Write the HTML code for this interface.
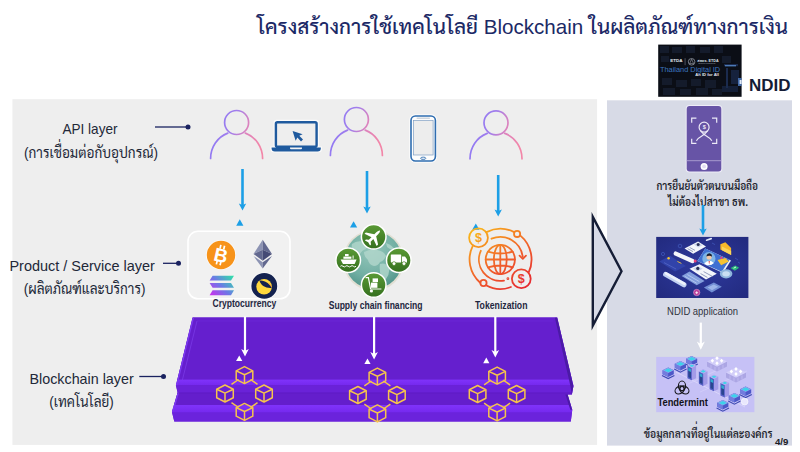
<!DOCTYPE html>
<html lang="th">
<head>
<meta charset="utf-8">
<title>โครงสร้างการใช้เทคโนโลยี Blockchain ในผลิตภัณฑ์ทางการเงิน</title>
<style>
html,body{margin:0;padding:0;background:#fff}
body{width:800px;height:452px;overflow:hidden;position:relative}
svg{position:absolute;left:0;top:0;display:block}
text{font-family:"Liberation Sans","Sarabun","Noto Sans Thai","Loma",sans-serif}
.lbl{font-size:14.5px;fill:#222838}
.cap{font-size:10.5px;font-weight:bold;fill:#1f2740}
</style>
</head>
<body>
<svg width="800" height="452" viewBox="0 0 800 452">
<defs>
  <linearGradient id="gPerson" gradientUnits="userSpaceOnUse" x1="-24" y1="-30" x2="24" y2="-14">
    <stop offset="0" stop-color="#8c78f6"/><stop offset="0.38" stop-color="#a47eea"/><stop offset="0.66" stop-color="#de83bc"/><stop offset="1" stop-color="#f286a8"/>
  </linearGradient>
  <g id="person" fill="none" stroke="url(#gPerson)" stroke-width="1.7" stroke-linecap="round">
    <circle cx="0" cy="-36" r="12"/>
    <path d="M-26 0 A26 27 0 0 1 -8.8 -25.4"/>
    <path d="M8.8 -25.4 A26 27 0 0 1 26 0"/>
  </g>
  <g id="cube" fill="none" stroke="#f6c44c" stroke-width="1.5" stroke-linejoin="round">
    <path d="M0 -8.5 L8.3 -4.25 L8.3 4.25 L0 8.5 L-8.3 4.25 L-8.3 -4.25 Z"/>
    <path d="M-8.3 -4.25 L0 -0.4 L8.3 -4.25 M0 -0.4 L0 8.5"/>
  </g>
  <g id="chain">
    <path d="M-13 -9.2 L-6 -14 M13 -9.2 L6 -14 M-13 9.2 L-6 14 M13 9.2 L6 14" stroke="#f6c44c" stroke-width="1.5" fill="none"/>
    <use href="#cube" x="0" y="-18.4"/>
    <use href="#cube" x="-19.5" y="0"/>
    <use href="#cube" x="19.5" y="0"/>
    <use href="#cube" x="0" y="18.4"/>
  </g>
</defs>

<!-- panels -->
<rect x="12.4" y="99.2" width="584.7" height="345.7" fill="#eeeeee"/>
<rect x="607" y="100.3" width="185" height="345.3" fill="#d7dae6"/>

<!-- title -->
<text x="788" y="34.3" text-anchor="end" font-size="21" font-weight="500" fill="#1c2966" textLength="531" lengthAdjust="spacingAndGlyphs">โครงสร้างการใช้เทคโนโลยี Blockchain ในผลิตภัณฑ์ทางการเงิน</text>

<!-- left labels -->
<text class="lbl" x="90" y="133.8" text-anchor="middle" textLength="55" lengthAdjust="spacingAndGlyphs">API layer</text>
<text class="lbl" x="91" y="157.5" text-anchor="middle" textLength="134" lengthAdjust="spacingAndGlyphs">(การเชื่อมต่อกับอุปกรณ์)</text>
<text class="lbl" x="82.2" y="271.2" text-anchor="middle" textLength="145.5" lengthAdjust="spacingAndGlyphs">Product / Service layer</text>
<text class="lbl" x="84.6" y="293.8" text-anchor="middle" textLength="121.7" lengthAdjust="spacingAndGlyphs">(ผลิตภัณฑ์และบริการ)</text>
<text class="lbl" x="81.6" y="383.5" text-anchor="middle" textLength="104.2" lengthAdjust="spacingAndGlyphs">Blockchain layer</text>
<text class="lbl" x="81.5" y="407" text-anchor="middle" textLength="64.5" lengthAdjust="spacingAndGlyphs">(เทคโนโลยี)</text>
<g stroke="#1a2260" stroke-width="1.3" fill="#1a2260">
  <path d="M155 127 H187"/><circle cx="188" cy="127" r="2.5" stroke="none"/>
  <path d="M163 263.3 H178"/><circle cx="178.5" cy="263.3" r="2.5" stroke="none"/>
  <path d="M139.3 376.5 H163"/><circle cx="163.5" cy="376.5" r="2.5" stroke="none"/>
</g>

<!-- persons -->
<use href="#person" x="236.6" y="158.5"/>
<use href="#person" x="356.4" y="155.5"/>
<use href="#person" x="496" y="158.8"/>

<!-- blue arrows -->
<g stroke="#1c9fe6" stroke-width="2.6" fill="#1c9fe6">
  <path d="M242.5 169 V205.4"/><path d="M238.8 203.6 L242.5 205.0 L246.2 203.6 L242.5 210.4 Z" stroke="none"/>
  <path d="M367 171 V208.4"/><path d="M363.3 206.6 L367 208.0 L370.7 206.6 L367 213.4 Z" stroke="none"/>
  <path d="M498.2 175 V211.4"/><path d="M494.5 209.6 L498.2 211.0 L501.9 209.6 L498.2 216.4 Z" stroke="none"/>
  <path d="M239.8 219.3 L243.4 225.7 H236.2 Z" stroke="none"/>
  <path d="M353.6 221.2 L357.2 227.6 H350.0 Z" stroke="none"/>
  <path d="M475.8 223.4 L479.4 229.8 H472.2 Z" stroke="none"/>
</g>

<!-- crypto box -->
<rect x="188" y="231.3" width="102" height="67.5" rx="10" fill="#f1f1f1" stroke="#fff" stroke-width="1.6"/>
<!-- bitcoin -->
<circle cx="221" cy="255" r="15" fill="#fff" opacity=".7"/>
<circle cx="221" cy="255" r="14.2" fill="#f7931a"/>
<g transform="rotate(13 221 255)">
  <text x="221" y="262" text-anchor="middle" font-size="19" font-weight="bold" fill="#fff">B</text>
  <path d="M218.6 245.2 V249 M222.4 245.2 V249 M218.6 261.5 V265.2 M222.4 261.5 V265.2" stroke="#fff" stroke-width="1.7"/>
</g>
<!-- ethereum -->
<g>
  <path d="M262.7 239.7 L253.5 253.9 L262.7 249.8 Z" fill="#8c93b3"/>
  <path d="M262.7 239.7 L272 253.9 L262.7 249.8 Z" fill="#62688f"/>
  <path d="M253.5 253.9 L262.7 249.8 L262.7 260.7 Z" fill="#62688f"/>
  <path d="M272 253.9 L262.7 249.8 L262.7 260.7 Z" fill="#454a75"/>
  <path d="M253.5 256 L262.7 262.3 L262.7 268.4 Z" fill="#8c93b3"/>
  <path d="M272 256 L262.7 262.3 L262.7 268.4 Z" fill="#62688f"/>
</g>
<!-- solana -->
<linearGradient id="gSol" gradientUnits="userSpaceOnUse" x1="232" y1="275" x2="210" y2="296">
  <stop offset="0" stop-color="#2fe0a8"/><stop offset=".5" stop-color="#6b7ae6"/><stop offset="1" stop-color="#d02bee"/>
</linearGradient>
<g fill="url(#gSol)">
  <path d="M212.6 275.7 H234 L231 280.4 H209.6 Z"/>
  <path d="M209.6 282.9 H231 L234 287.8 H212.6 Z"/>
  <path d="M212.6 290.2 H234 L231 295.2 H209.6 Z"/>
</g>
<!-- terra -->
<circle cx="264.3" cy="285.9" r="13.7" fill="#fff" opacity=".7"/>
<circle cx="264.3" cy="285.9" r="12.9" fill="#14224f"/>
<circle cx="264.1" cy="286.7" r="7.8" fill="#ffd83d"/>
<path d="M259.5 280.6 C263 280.6 269 282.4 271.8 288 C266 288.6 260.6 285.6 259.5 280.6 Z" fill="#14224f"/>
<path d="M268 282.4 C270 283.4 271.4 285.4 271.9 288 C270.6 286 269.4 284.2 268 282.4 Z" fill="#f58a2a"/>
<text class="cap" x="244.4" y="307.4" text-anchor="middle" textLength="63.8" lengthAdjust="spacingAndGlyphs">Cryptocurrency</text>
<text class="cap" x="375.6" y="308.6" text-anchor="middle" textLength="93.8" lengthAdjust="spacingAndGlyphs">Supply chain financing</text>
<text class="cap" x="501.2" y="308.6" text-anchor="middle" textLength="52.5" lengthAdjust="spacingAndGlyphs">Tokenization</text>

<!-- platform -->
<clipPath id="cpPlat"><path d="M192.6 317.4 L557.2 317.4 L573.5 386 L571.9 394.6 L567.6 394.6 L572.3 409.8 L570.8 421.5 L174.3 421.5 L171.9 411.8 L177.6 392.6 L175.9 385.3 Z"/></clipPath>
<linearGradient id="gB1" x1="0" y1="0" x2="0" y2="1"><stop offset="0" stop-color="#8033fb"/><stop offset="1" stop-color="#7529ee"/></linearGradient>
<g clip-path="url(#cpPlat)">
  <rect x="170" y="317" width="406" height="105" fill="#6a22d8"/>
  <rect x="170" y="317" width="406" height="63" fill="#651fce"/>
  <rect x="170" y="379.6" width="406" height="5.6" fill="url(#gB1)"/>
  <rect x="170" y="385.2" width="406" height="7.6" fill="#6a22d8"/>
  <rect x="170" y="392.6" width="406" height="12.6" fill="#641ecc"/>
  <rect x="170" y="405" width="406" height="7.6" fill="url(#gB1)"/>
  <rect x="170" y="412.5" width="406" height="9.5" fill="#6b23dc"/>
  <path d="M192.6 317.4 L175.9 385.3 L177.4 385.3 L194.1 317.4 Z" fill="#7c3af0"/>
  <path d="M177.6 392.6 L171.9 411.8 L173.4 411.8 L179.1 392.6 Z" fill="#7c3af0"/>
  <path d="M197 321 L182.4 380" stroke="#7a3ae6" stroke-width="0.8" fill="none"/>
  <path d="M197 321 H553.4" stroke="#6d29d8" stroke-width="0.8" fill="none"/>
  <path d="M557.2 317.4 L573.5 386 L571.9 394.6 L570.4 386 L554.8 317.4 Z" fill="#4b1aa6"/>
  <path d="M567.6 394.6 L572.3 409.8 L570.3 409.8 L565.4 394.6 Z" fill="#4b1aa6"/>
  <path d="M176 393 H572" stroke="#5a1bbc" stroke-width="0.9" opacity=".55"/>
</g>

<!-- white arrows -->
<g stroke="#fff" stroke-width="2.2" fill="#fff">
  <path d="M245 316.5 V351"/><path d="M241.2 349 L245 351 L248.8 349 L245 356.5 Z" stroke="none"/>
  <path d="M374.1 316.5 V354"/><path d="M370.3 352 L374.1 354 L377.9 352 L374.1 359.5 Z" stroke="none"/>
  <path d="M495.3 316.5 V352"/><path d="M491.5 350 L495.3 352 L499.1 350 L495.3 357.5 Z" stroke="none"/>
  <path d="M239.2 355.4 L242.3 361 H236.1 Z" stroke="none"/>
  <path d="M367.5 358.4 L370.6 364 H364.4 Z" stroke="none"/>
  <path d="M486.3 357.6 L489.4 363.2 H483.2 Z" stroke="none"/>
</g>
<use href="#chain" x="244.5" y="393.5"/>
<use href="#chain" x="377.4" y="395"/>
<use href="#chain" x="497.1" y="394"/>

<!-- laptop -->
<g>
  <rect x="273.5" y="119.8" width="45.5" height="28.4" rx="3" fill="#fff" opacity=".75"/>
  <path d="M270.4 146.6 H322 V149 Q322 152.6 318 152.6 H274.4 Q270.4 152.6 270.4 149 Z" fill="#fff" opacity=".75"/>
  <rect x="275.9" y="122.2" width="40.7" height="24.6" rx="1.6" fill="#eeeeee" stroke="#1f5a9e" stroke-width="2.4"/>
  <path d="M271.6 147.6 H320.8 V148.6 Q320.8 151.5 317.6 151.5 H274.8 Q271.6 151.5 271.6 148.6 Z" fill="#1f5a9e"/>
  <path d="M290 147.4 H302 V148.2 Q302 149.2 301 149.2 H291 Q290 149.2 290 148.2 Z" fill="#f4f4f4"/>
  <path d="M292.6 131 L302.6 134.2 L299.3 135.8 L303 139.6 L301 141.4 L297.4 137.6 L295.6 140.8 Z" fill="#1f5a9e"/>
</g>
<!-- phone -->
<g>
  <rect x="409.3" y="114.3" width="27.8" height="48.4" rx="5.5" fill="#fff" opacity=".8"/>
  <rect x="411" y="116" width="24.4" height="45" rx="4.4" fill="#fdfdfd" stroke="#2f6db0" stroke-width="1.6"/>
  <rect x="413.4" y="120.6" width="19.7" height="34.4" fill="#ededed" stroke="#7f9fc4" stroke-width="0.7"/>
  <rect x="416.5" y="117.6" width="13.5" height="1.3" rx=".6" fill="#cfd6de"/>
  <ellipse cx="423.2" cy="158.3" rx="2.6" ry="1.2" fill="#dfe8f2" stroke="#2f6db0" stroke-width=".8"/>
</g>

<!-- supply chain icon -->
<radialGradient id="gGlobe" cx=".45" cy=".32" r=".78"><stop offset="0" stop-color="#95c7bb"/><stop offset=".6" stop-color="#70aea2"/><stop offset="1" stop-color="#468a81"/></radialGradient>
<linearGradient id="gGreen" x1="0" y1="0" x2="0" y2="1"><stop offset="0" stop-color="#5a9a35"/><stop offset="1" stop-color="#35701f"/></linearGradient>
<circle cx="373.5" cy="260.4" r="30.6" fill="#e2dfd3"/>
<circle cx="373.5" cy="260.2" r="28.8" fill="url(#gGlobe)"/>
<g fill="#b2d7cc" opacity=".8">
  <path d="M352 244 Q357 240 364 242 Q368 245 366 249 Q362 250 360 254 Q356 255 353 251 Q351 247 352 244 Z"/>
  <path d="M364 252 Q370 249 377 250 Q384 251 386 256 Q384 261 380 262 Q378 266 374 266 Q369 265 368 260 Q364 257 364 252 Z"/>
  <path d="M380 264 Q386 262 389 268 Q390 274 386 279 Q382 282 381 276 Q379 270 380 264 Z"/>
  <path d="M386 243 Q392 245 395 250 Q390 250 387 247 Z"/>
</g>
<g stroke="#fff" stroke-width="1.5" fill="url(#gGreen)">
  <circle cx="373.7" cy="236.8" r="12.3"/>
  <circle cx="348.2" cy="260.2" r="12.3"/>
  <circle cx="398.8" cy="260.2" r="12.3"/>
  <circle cx="373.7" cy="285" r="12.3"/>
</g>
<!-- plane -->
<g fill="#fff" transform="translate(373.7 236.8) rotate(45)">
  <path d="M0 -9 Q1.3 -8 1.3 -5 V-2.2 L8.6 2.4 V4.4 L1.3 1.8 V5.6 L3.6 7.4 V8.8 L0 7.8 L-3.6 8.8 V7.4 L-1.3 5.6 V1.8 L-8.6 4.4 V2.4 L-1.3 -2.2 V-5 Q-1.3 -8 0 -9 Z"/>
</g>
<!-- ship -->
<g fill="#fff">
  <path d="M340.6 259.4 H356.6 L354.6 264 H343 Z"/>
  <path d="M343.4 256.6 H351.4 V258.8 H343.4 Z"/>
  <path d="M345 254 H348.6 V256.2 H345 Z"/>
  <path d="M352.6 255.6 H353.6 V258.8 H352.6 Z"/>
  <path d="M340.4 266.3 q1.3 -1.3 2.6 0 t2.6 0 t2.6 0 t2.6 0 t2.6 0 t2.6 0" fill="none" stroke="#fff" stroke-width="1"/>
</g>
<!-- truck -->
<g fill="#fff">
  <rect x="390.8" y="254.4" width="10.4" height="8" rx=".6"/>
  <path d="M402 256.4 H405 L407 259.2 V262.4 H402 Z"/>
  <circle cx="394" cy="263.6" r="1.9" stroke="#44801f" stroke-width=".7"/>
  <circle cx="404" cy="263.6" r="1.9" stroke="#44801f" stroke-width=".7"/>
</g>
<!-- trolley -->
<g fill="#fff">
  <path d="M365.6 277.6 H368.4 L370.6 289 H381.4" fill="none" stroke="#fff" stroke-width="1.2"/>
  <rect x="371" y="282.6" width="6.4" height="5.2"/>
  <rect x="372.6" y="278.4" width="5.4" height="3.6"/>
  <circle cx="371.4" cy="291" r="1.6"/>
</g>

<!-- tokenization icon -->
<linearGradient id="gTok" gradientUnits="userSpaceOnUse" x1="480" y1="228" x2="520" y2="290">
  <stop offset="0" stop-color="#f9b21a"/><stop offset=".5" stop-color="#f1662a"/><stop offset="1" stop-color="#e62a30"/>
</linearGradient>
<g fill="none" stroke="url(#gTok)" stroke-width="1.8" stroke-linecap="round" stroke-linejoin="round">
  <circle cx="500.3" cy="259.5" r="14.6"/>
  <ellipse cx="500.3" cy="259.5" rx="6.4" ry="14.6"/>
  <path d="M500.3 244.9 V274.1 M485.7 259.5 H514.9 M488 251.6 Q500.3 255.4 512.6 251.6 M488 267.4 Q500.3 263.6 512.6 267.4"/>
  <circle cx="478.5" cy="237.8" r="9.4"/>
  <circle cx="521.3" cy="278.8" r="9.4"/>
  <circle cx="517.1" cy="233.9" r="3.1"/>
  <circle cx="483.5" cy="283" r="3.1"/>
  <path d="M486.4 232.1 A30.7 30.7 0 0 1 514.2 232.1"/>
  <path d="M520.4 235.6 A31.2 31.2 0 0 1 528.6 272.7"/>
  <path d="M491.5 238.7 A22.6 22.6 0 0 1 522.7 256.7"/>
  <path d="M472.9 245.6 A30.7 30.7 0 0 0 480.2 282.7"/>
  <path d="M486.0 285.3 A29.5 29.5 0 0 0 510.9 287.0"/>
  <path d="M480.8 250.8 A21.4 21.4 0 0 0 504.0 280.6"/>
  <path d="M519.5 255.6 L522.8 258.8 L526 255.6"/>
  <circle cx="507.9" cy="278.7" r=".5"/>
</g>
<g fill="url(#gTok)" font-weight="bold" text-anchor="middle">
  <text x="478.5" y="242.4" font-size="12.5">$</text>
  <text x="521.3" y="283.4" font-size="12.5">$</text>
</g>

<!-- chevron -->
<path d="M592.8 216.9 L621.5 271.2 L592.8 325.6 Z" fill="#d7dae6" stroke="#151d36" stroke-width="2.4" stroke-linejoin="miter" stroke-miterlimit="10"/>

<!-- NDID banner image -->
<g>
  <rect x="658.2" y="44.6" width="83.4" height="52.2" fill="#0b0e16"/>
  <g fill="#141b2b">
    <rect x="660" y="46" width="9" height="7"/><rect x="672" y="47" width="10" height="6"/><rect x="686" y="46" width="9" height="7"/><rect x="700" y="47" width="10" height="6"/><rect x="714" y="46" width="9" height="7"/>
    <rect x="662" y="78" width="10" height="7"/><rect x="676" y="80" width="11" height="7"/><rect x="691" y="79" width="10" height="7"/><rect x="705" y="80" width="11" height="8"/><rect x="663" y="88" width="12" height="7"/><rect x="680" y="89" width="11" height="6"/><rect x="696" y="88" width="12" height="7"/><rect x="712" y="89" width="10" height="6"/>
    <rect x="661" y="56" width="8" height="6"/><rect x="722" y="56" width="9" height="7"/>
  </g>
  <g fill="#1b2b4e"><rect x="724" y="64" width="14" height="2.2"/><rect x="726" y="68" width="2" height="20"/><rect x="731" y="70" width="8" height="14" opacity=".7"/><rect x="722" y="86" width="16" height="6" opacity=".6"/></g>
  <rect x="725" y="65" width="11" height="1.4" fill="#5a8fd0" opacity=".8"/>
  <rect x="738" y="78" width="3.6" height="8" fill="#4f7fc8" opacity=".8"/>
  <rect x="739.6" y="80" width="2" height="4" fill="#dfe9f8"/>
  <text x="670.2" y="62.2" font-size="4" font-weight="bold" fill="#e8ecf2" textLength="12.4" lengthAdjust="spacingAndGlyphs">ETDA</text>
  <path d="M685.1 58.2 V65.2" stroke="#9aa3b2" stroke-width=".45"/>
  <circle cx="691.6" cy="61.8" r="3.3" fill="none" stroke="#c8ced8" stroke-width=".55"/>
  <path d="M691.6 59.2 L693.6 63.6 H689.6 Z" fill="none" stroke="#c8ced8" stroke-width=".45"/>
  <text x="697.2" y="61.6" font-size="3.2" font-weight="bold" fill="#dde1e8" textLength="21.4" lengthAdjust="spacingAndGlyphs">สพธอ. ETDA</text>
  <text x="698.4" y="64.4" font-size="2.3" fill="#a2a9b6" textLength="17" lengthAdjust="spacingAndGlyphs">Electronic Transactions</text>
  <text x="660" y="72.2" font-size="7" fill="#3d76c0" textLength="60.2" lengthAdjust="spacingAndGlyphs">Thailand Digital ID</text>
  <text x="695.3" y="76.1" font-size="3.5" font-weight="bold" fill="#e4e8ee" textLength="23.6" lengthAdjust="spacingAndGlyphs">An ID for All</text>
</g>
<text x="749" y="90.8" font-size="16.6" font-weight="bold" fill="#141c36" textLength="41.5" lengthAdjust="spacingAndGlyphs">NDID</text>

<!-- purple phone -->
<g>
  <rect x="685.7" y="105.1" width="36.6" height="67.4" rx="3.8" fill="#efedf8"/>
  <rect x="686.7" y="106.1" width="34.6" height="65.4" rx="3" fill="#6754a6"/>
  <path d="M686.7 160.7 H721.3" stroke="#b5abd8" stroke-width=".8"/>
  <circle cx="704.1" cy="166.4" r="3.5" fill="#fff"/>
  <circle cx="704.1" cy="166.4" r="1.9" fill="#e4dff3"/>
  <g fill="none" stroke="#ece9f7" stroke-width="1.2">
    <path d="M691.7 122.8 V118.1 H696.4 M712 118.1 H716.7 V122.8 M716.7 138.7 V143.4 H712 M696.4 143.4 H691.7 V138.7"/>
    <circle cx="704.1" cy="127.2" r="5"/>
    <path d="M700.7 130.9 L704.1 134.6 L707.5 130.9"/>
    <path d="M704.1 134.6 C701.5 136.4 698 137.4 696.4 140.8 M704.1 134.6 C706.7 136.4 710.2 137.4 711.8 140.8"/>
  </g>
  <text x="704.2" y="129.3" font-size="5.6" font-weight="bold" text-anchor="middle" fill="#ece9f7">$</text>
</g>
<g font-size="11.5" font-weight="600" fill="#20222c" text-anchor="middle">
  <text x="707.2" y="189.6" textLength="101.6" lengthAdjust="spacingAndGlyphs">การยืนยันตัวตนบนมือถือ</text>
  <text x="708" y="206" textLength="80" lengthAdjust="spacingAndGlyphs">ไม่ต้องไปสาขา ธพ.</text>
</g>
<g stroke="#1c9fe6" stroke-width="2.6" fill="#1c9fe6">
  <path d="M703 205 V230.4"/><path d="M699.3 228.6 L703 230.0 L706.7 228.6 L703 235.4 Z" stroke="none"/>
</g>

<!-- NDID application image -->
<radialGradient id="gApp" cx=".5" cy=".5" r=".7"><stop offset="0" stop-color="#2e3a9e"/><stop offset="1" stop-color="#222a7e"/></radialGradient>
<g>
  <rect x="656.2" y="236.9" width="92.2" height="61.1" fill="url(#gApp)"/>
  <!-- faint icons -->
  <g fill="none" stroke="#3f55b8" stroke-width=".8"><circle cx="680" cy="246" r="1.8"/><circle cx="663" cy="254" r="1.6"/><path d="M712 243 l3 1.6 M735 258 l3 2 M738 262 l2 1.4"/></g>
  <!-- big screen -->
  <path d="M705.3 248.6 L731 260.4 L723 273 L697.4 260.9 Z" fill="#eef2fb"/>
  <path d="M705.3 248.6 L729.6 259.8 L721.8 271.8 L697.4 260.9 Z" fill="#3f70d2"/>
  <circle cx="708.9" cy="258.7" r="6.6" fill="#7db4e6"/>
  <path d="M704.2 263.4 Q708.9 258.4 713.8 263 Q711.6 265.3 708.9 265.3 Q706.2 265.3 704.2 263.4 Z" fill="#fff"/>
  <circle cx="709.1" cy="256.9" r="2.6" fill="#f1c7a6"/>
  <path d="M706.4 256.4 Q706.8 253 710 253.4 Q712.4 254 711.8 256.8 Q710 255 706.4 256.4 Z" fill="#1d2030"/>
  <path d="M708.6 261 L709.1 264.8 L709.8 261 Z" fill="#d2353f"/>
  <!-- top id card -->
  <path d="M684.5 248.6 L698.1 241.5 L706 246.5 L693.1 253.7 Z" fill="#f4f6fb"/>
  <path d="M694 244.6 L698.2 242.6 L702.4 245.2 L698.2 247.4 Z" fill="#c9d3ea"/>
  <circle cx="698.2" cy="244.6" r="1.5" fill="#2a3157"/>
  <path d="M687.6 248.6 L693 251.6 M689.6 247.4 L695 250.4" stroke="#7d8ab0" stroke-width=".8"/>
  <!-- bottom id card -->
  <path d="M689.5 268.8 L699.5 264.2 L716.8 273.8 L706 279.5 Z" fill="#f4f6fb"/>
  <path d="M693 268.6 L698 266.2 L702.6 268.8 L697.6 271.4 Z" fill="#c9d3ea"/>
  <circle cx="697.8" cy="268.4" r="1.6" fill="#2a3157"/>
  <path d="M700.6 273.6 L707.4 277.4 M703.6 271.6 L712.4 276.4" stroke="#8a95b8" stroke-width=".9"/>
  <!-- folder + note -->
  <path d="M720.4 244.3 L725.4 242.2 L731.1 247.9 L731.1 255.1 L720.4 249.4 Z" fill="#f7b92a"/>
  <path d="M722 246.6 L731.1 251 L731.1 255.1 L722 250.3 Z" fill="#fbd55a"/>
  <path d="M717.5 260.1 L725.4 258 L729 261.6 L721.1 265.2 Z" fill="#f6c232"/>
  <circle cx="721.4" cy="257.8" r="1.2" fill="#e8447a"/>
  <!-- pill -->
  <path d="M675.8 253.6 L692.4 261" stroke="#f4f6fb" stroke-width="4.3" stroke-linecap="round"/>
  <circle cx="695.2" cy="260.9" r="1.5" fill="#e8447a"/>
  <!-- dark card -->
  <path d="M659.3 261.6 L670.1 255.8 L685.9 265.9 L675.1 271.6 Z" fill="#3143aa"/>
  <circle cx="668.6" cy="258.2" r="1.2" fill="#f5c431"/>
  <path d="M677.4 261.4 L681.4 263.4" stroke="#f5c431" stroke-width=".9"/>
  <path d="M664 262.6 L676 269" stroke="#5a6cc8" stroke-width=".7"/>
  <!-- long bar -->
  <path d="M665.6 274.4 L684 284.8" stroke="#c3d2f2" stroke-width="5" stroke-linecap="round"/>
  <path d="M666 273.4 L684.4 283.8" stroke="#eef2fc" stroke-width="2.6" stroke-linecap="round"/>
  <!-- keyboard + tablet -->
  <path d="M681.6 276 L689.5 271.6 L704.6 281 L696.7 285.3 Z" fill="#93b2ea" opacity=".85"/>
  <path d="M684.6 276.2 L696.6 283.2 M687.4 274.6 L699.4 281.6" stroke="#c6d6f6" stroke-width=".7"/>
  <path d="M703.9 287.4 L713.9 282.4 L721.8 286.7 L711.8 292.5 Z" fill="#7f9fe0" opacity=".85"/>
  <path d="M707.6 287.4 L713.8 284.4 L718.2 286.8 L712 290.2 Z" fill="#a9c0ee" opacity=".8"/>
  <!-- fingerprint + green -->
  <ellipse cx="726.1" cy="273.8" rx="6.3" ry="4.6" fill="#8fb6dd"/>
  <ellipse cx="726.1" cy="273.8" rx="3.8" ry="2.6" fill="#c9dff2"/>
  <path d="M730.6 268 L735.2 265.4 L739.2 267.8 L734.8 270.8 Z" fill="#2dbb7b"/>
  <path d="M733.6 268.2 L736 267" stroke="#eafff4" stroke-width=".9"/>
  <circle cx="696.7" cy="292.5" r="3.2" fill="#b93f9b"/>
  <circle cx="696.7" cy="292.5" r="3.2" fill="none" stroke="#e9a8dc" stroke-width=".5"/>
  <path d="M695.3 292.7 H698.1 M696.7 291.3 V294.1" stroke="#fff" stroke-width=".8"/>
  <path d="M706.6 240.2 L711.2 238.6" stroke="#dfe6f8" stroke-width="1.7" stroke-linecap="round"/>
</g>
<text x="702.6" y="314.6" font-size="10.6" fill="#30343e" text-anchor="middle" textLength="71" lengthAdjust="spacingAndGlyphs">NDID application</text>
<g stroke="#fff" stroke-width="2.2" fill="#fff">
  <path d="M700.8 322.6 V344"/><path d="M696.8 341.6 L700.8 344 L704.8 341.6 L700.8 349.8 Z" stroke="none"/>
</g>

<!-- tendermint image -->
<defs>
  <g id="scube">
    <path d="M0 -4.6 L5.6 -1.8 L5.6 2.2 L0 5 L-5.6 2.2 L-5.6 -1.8 Z" fill="#4d58c8"/>
    <path d="M-5.6 -1.8 L0 1 L0 5 L-5.6 2.2 Z" fill="#737cde"/>
    <path d="M0 -4.6 L5.6 -1.8 L0 1 L-5.6 -1.8 Z" fill="#8ea6ee"/>
    <path d="M0 -3.6 L3.9 -1.7 L0 .2 L-3.9 -1.7 Z" fill="#3bd3ea"/>
    <path d="M-6.2 3.4 L0 6.6 L6.2 3.4" fill="none" stroke="#3e4ab2" stroke-width="1.1"/>
  </g>
  <g id="tower">
    <path d="M-4.3 -6.2 L0 -8.3 L4.3 -6.2 L4.3 6.2 L0 8.3 L-4.3 6.2 Z" fill="#a39be8"/>
    <path d="M-4.3 -6.2 L0 -4.1 L0 8.3 L-4.3 6.2 Z" fill="#5560c6"/>
    <path d="M-3.5 -4.4 L-0.8 -3.1 L-0.8 6.4 L-3.5 5.1 Z" fill="#2a4590"/>
    <path d="M-3.5 -4.4 L-0.8 -3.1 L-0.8 0 L-3.5 -1.3 Z" fill="#2fa9cf"/>
    <path d="M-4.3 -6.2 L0 -8.3 L4.3 -6.2 L0 -4.1 Z" fill="#b9b3f3"/>
    <path d="M-2.6 -6.2 L0 -7.5 L2.6 -6.2 L0 -4.9 Z" fill="#3fd5ea"/>
  </g>
  <g id="plat">
    <path d="M-10 -2 L0 3 L10 -2 L10 3 L0 8 L-10 3 Z" fill="#aca6e4"/>
    <path d="M0 -7 L10 -2 L0 3 L-10 -2 Z" fill="#d3cff9"/>
    <path d="M-6 1 V5 M-2 3 V7 M2 3 V7 M6 1 V5" stroke="#c4bff2" stroke-width=".8"/>
    <g fill="#fff"><path d="M0 -7.4 L1.7 -5.4 L0 -3.4 L-1.7 -5.4 Z"/><path d="M-4.6 -4.8 L-2.9 -2.8 L-4.6 -.8 L-6.3 -2.8 Z"/><path d="M4.6 -4.8 L6.3 -2.8 L4.6 -.8 L2.9 -2.8 Z"/><path d="M0 -2.4 L1.7 -.4 L0 1.6 L-1.7 -.4 Z"/></g>
  </g>
</defs>
<g>
  <rect x="656.2" y="356.9" width="98.2" height="55.3" fill="#c6c1f6"/>
  <path d="M676 372 L745 407" stroke="#d9d5fb" stroke-width="1"/>
  <path d="M688 384 L726 366 M700 392 L747 371" stroke="#d3cefa" stroke-width=".8"/>
  <use href="#plat" x="717" y="363.6"/>
  <use href="#plat" x="736" y="374.4"/>
  <use href="#scube" x="691.6" y="360.6"/>
  <use href="#scube" x="680.4" y="365.6"/>
  <use href="#scube" x="668.2" y="372"/>
  <use href="#tower" x="691.8" y="372"/>
  <use href="#tower" x="703.2" y="377.6"/>
  <use href="#tower" x="714" y="383"/>
  <use href="#tower" x="724.8" y="389.2"/>
  <use href="#scube" x="745.6" y="391"/>
  <use href="#scube" x="734.4" y="397.6"/>
  <use href="#scube" x="722.8" y="404.6"/>
  <circle cx="744.6" cy="401.6" r="3.4" fill="#e9e7fd" stroke="#fff" stroke-width=".6"/>
  <!-- tendermint logo -->
  <g fill="none" stroke="#17171b" stroke-width="1.1">
    <ellipse cx="682" cy="386" rx="3.6" ry="5"/>
    <ellipse cx="682" cy="386" rx="3.6" ry="5" transform="rotate(120 682 388.6)"/>
    <ellipse cx="682" cy="386" rx="3.6" ry="5" transform="rotate(240 682 388.6)"/>
    <circle cx="682" cy="388.6" r="2.1"/>
  </g>
  <text x="657.4" y="406.2" font-size="10" font-weight="bold" fill="#131318" textLength="50.4" lengthAdjust="spacingAndGlyphs">Tendermint</text>
</g>
<text x="708.2" y="437.6" font-size="12.5" font-weight="600" fill="#24262e" text-anchor="middle" textLength="128.8" lengthAdjust="spacingAndGlyphs">ข้อมูลกลางที่อยู่ในแต่ละองค์กร</text>
<text x="775" y="445" font-size="9" font-weight="bold" fill="#1a1c24" textLength="13.4" lengthAdjust="spacingAndGlyphs">4/9</text>

</svg>
</body>
</html>
